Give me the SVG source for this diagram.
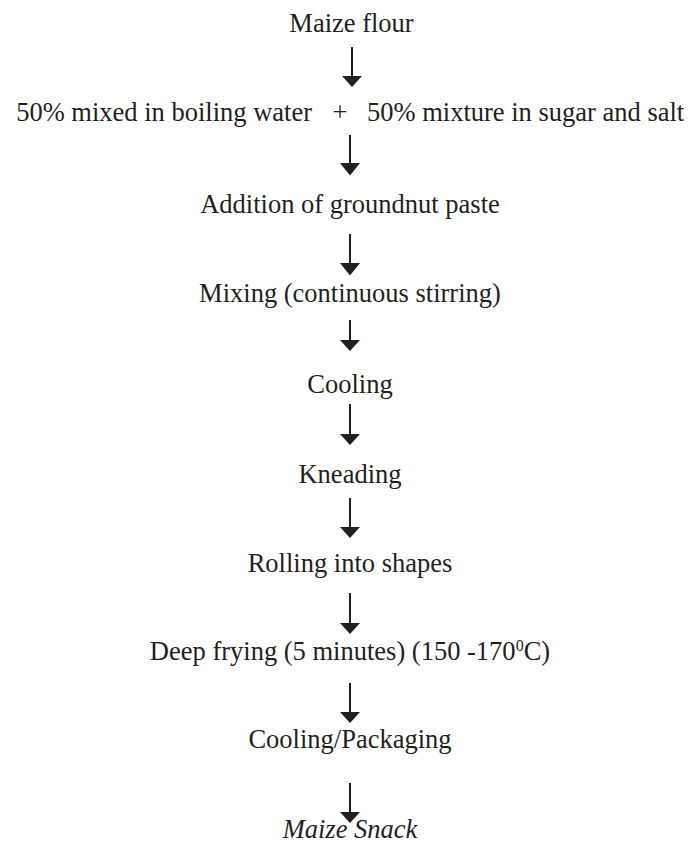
<svg xmlns="http://www.w3.org/2000/svg" width="691" height="843" viewBox="0 0 691 843">
<style>
text{font-family:"Liberation Serif","Times New Roman",serif;font-size:26.5px;fill:#231f20}
.c{text-anchor:middle}
.it{font-style:italic}
.ln{stroke:#231f20;stroke-width:2;fill:none}
.hd{fill:#231f20}
</style>
<rect width="691" height="843" fill="#ffffff"/>
<g id="connectors">
<g><line class="ln" x1="352" y1="47" x2="352" y2="77"/><polygon class="hd" points="342,76 362,76 352,87"/></g>
<g><line class="ln" x1="350" y1="135" x2="350" y2="164"/><polygon class="hd" points="340,163 360,163 350,175.5"/></g>
<g><line class="ln" x1="350" y1="234" x2="350" y2="264"/><polygon class="hd" points="340,263 360,263 350,275.5"/></g>
<g><line class="ln" x1="350" y1="320" x2="350" y2="341"/><polygon class="hd" points="340,340 360,340 350,351"/></g>
<g><line class="ln" x1="350" y1="404" x2="350" y2="435"/><polygon class="hd" points="340,434 360,434 350,445"/></g>
<g><line class="ln" x1="350" y1="498" x2="350" y2="528"/><polygon class="hd" points="340,527 360,527 350,538"/></g>
<g><line class="ln" x1="350" y1="593" x2="350" y2="624"/><polygon class="hd" points="340,623 360,623 350,634"/></g>
<g><line class="ln" x1="350" y1="683" x2="350" y2="713"/><polygon class="hd" points="340,712 360,712 350,723"/></g>
<g><line class="ln" x1="350" y1="783" x2="350" y2="813"/><polygon class="hd" points="340,812 360,812 350,823"/></g>
</g>
<g id="n1"><text class="c" x="351.5" y="32">Maize flour</text></g>
<g id="n2">
<text x="312" y="121" text-anchor="end">50% mixed in boiling water</text>
<text class="c" x="340" y="121">+</text>
<text x="367" y="121">50% mixture in sugar and salt</text>
</g>
<g id="n3"><text class="c" x="350" y="213">Addition of groundnut paste</text></g>
<g id="n4"><text class="c" x="350" y="302">Mixing (continuous stirring)</text></g>
<g id="n5"><text class="c" x="350" y="393">Cooling</text></g>
<g id="n6"><text class="c" x="350" y="483">Kneading</text></g>
<g id="n7"><text class="c" x="350" y="572">Rolling into shapes</text></g>
<g id="n8"><text class="c" x="350" y="660">Deep frying (5 minutes) (150 -170<tspan font-size="16" dy="-9">0</tspan><tspan dy="9">C)</tspan></text></g>
<g id="n9"><text class="c" x="350" y="748">Cooling/Packaging</text></g>
<g id="n10"><text class="c it" x="350" y="838">Maize Snack</text></g>
</svg>
